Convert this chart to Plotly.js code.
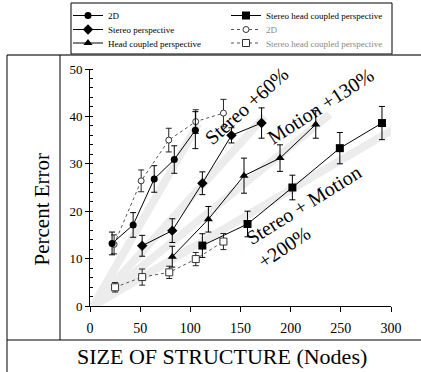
<!DOCTYPE html>
<html>
<head>
<meta charset="utf-8">
<script src="https://cdn.plot.ly/plotly-3.0.1.min.js"></script>
<style>html,body{margin:0;padding:0;background:#fff;}#chart{width:421px;height:372px;}</style>
</head>
<body>
<div id="chart"></div>
<script>
// ---- data ----
const x2D = [22, 43, 64, 84, 105];
const y2D = [13.2, 17.1, 26.8, 30.9, 37.1];
const e2D = [2.4, 2.6, 2.8, 2.9, 3.9];

const xStereo = [52, 82, 112, 141, 171];
const yStereo = [12.7, 15.9, 25.9, 36.0, 38.6];
const eStereo = [2.2, 2.5, 2.4, 1.6, 3.2];

const xHead = [82, 118, 153.5, 189.4, 225];
const yHead = [10.4, 18.3, 27.5, 31.2, 38.3];
const eHead = [2.2, 2.7, 3.7, 2.8, 2.9];

const xStereoHead = [112, 157, 201.7, 249, 291];
const yStereoHead = [12.75, 17.3, 25.0, 33.3, 38.6];
const eStereoHead = [2.5, 2.7, 2.6, 3.3, 3.5];

const xOpen2D = [24, 51, 78.5, 105.4, 133];
const yOpen2D = [13.0, 26.4, 35.0, 38.9, 40.7];
const eOpen2D = [2.0, 2.3, 2.5, 2.5, 2.9];

const xOpenStereoHead = [25, 52, 79, 105.4, 133];
const yOpenStereoHead = [3.95, 6.1, 7.1, 9.9, 13.6];
const eOpenStereoHead = [1.0, 1.7, 1.3, 1.4, 1.7];

// trend bands (start, end)
const bandStartX = [3, 3, 3, 3];
const bandStartY = [0, 0, 0, 0];
const bandEndX = [108, 174, 239, 305];
const bandEndY = [38.5, 40.0, 40.4, 37.6];

const xTicks = [0, 50, 100, 150, 200, 250, 300];
const yTicks = [0, 10, 20, 30, 40, 50];

const serif = 'Liberation Serif, Times New Roman, serif';

// ---- traces ----
const traces = [];
for (let i = 0; i < bandEndX.length; i++) {
  traces.push({
    x: [bandStartX[i], bandEndX[i]], y: [bandStartY[i], bandEndY[i]],
    mode: 'lines', line: {color: '#ececec', width: 8}, showlegend: false, hoverinfo: 'skip'
  });
}
function solid(name, xs, ys, es, symbol, size, legend) {
  return {
    name: name, x: xs, y: ys, mode: 'lines+markers', legend: legend,
    line: {color: '#000', width: 1},
    marker: {symbol: symbol, size: size, color: '#000'},
    error_y: {type: 'data', array: es, visible: true, color: '#000', thickness: 1, width: 3}
  };
}
function open(name, xs, ys, es, symbol, size, legend) {
  return {
    name: name, x: xs, y: ys, mode: 'lines+markers', legend: legend,
    line: {color: '#555', width: 1, dash: '3px,3px'},
    marker: {symbol: symbol, size: size, color: '#fff', line: {color: '#333', width: 1}},
    error_y: {type: 'data', array: es, visible: true, color: '#222', thickness: 1, width: 3}
  };
}
traces.push(open('2D', xOpen2D, yOpen2D, eOpen2D, 'circle', 6, 'legend5'));
traces.push(open('Stereo head coupled perspective', xOpenStereoHead, yOpenStereoHead, eOpenStereoHead, 'square', 7, 'legend6'));
traces.push(solid('2D', x2D, y2D, e2D, 'circle', 7, 'legend'));
traces.push(solid('Stereo perspective', xStereo, yStereo, eStereo, 'diamond', 8, 'legend2'));
traces.push(solid('Head coupled perspective', xHead, yHead, eHead, 'triangle-up', 8, 'legend3'));
traces.push(solid('Stereo head coupled perspective', xStereoHead, yStereoHead, eStereoHead, 'square', 8, 'legend4'));

// pixel helpers for paper positions
const L = 90, R = 391, T = 69, B = 306;
const px = v => (v - L) / (R - L);
const py = v => (B - v) / (B - T);

function leg(xp, yp, color) {
  return {x: px(xp), y: py(yp), xanchor: 'left', yanchor: 'middle', bgcolor: 'rgba(0,0,0,0)',
    borderwidth: 0, font: {family: serif, size: 9, color: color}, itemwidth: 30};
}

const layout = {
  width: 421, height: 372,
  margin: {l: L, r: 421 - R, t: T, b: 372 - B, autoexpand: false},
  paper_bgcolor: '#fff', plot_bgcolor: '#fff',
  font: {family: serif, color: '#000'},
  showlegend: true,
  legend: leg(68, 15.5, '#000'),
  legend2: leg(68, 29.5, '#000'),
  legend3: leg(68, 43, '#000'),
  legend4: leg(226, 15.5, '#000'),
  legend5: leg(226, 29.5, '#888'),
  legend6: leg(226, 43, '#888'),
  xaxis: {range: [0, 300], tickvals: xTicks, ticks: 'outside', ticklen: 5, tickcolor: '#000',
    showline: true, linecolor: '#000', linewidth: 1, showgrid: false, zeroline: false,
    tickfont: {family: serif, size: 14, color: '#000'}, ticklabelstandoff: 4, fixedrange: true},
  xaxis2: {overlaying: 'x', anchor: 'y', range: [0, 300], tickvals: xTicks, ticks: 'inside', ticklen: 5,
    tickcolor: '#000', showticklabels: false, showline: false, showgrid: false, zeroline: false},
  xaxis3: {overlaying: 'x', anchor: 'y', side: 'top', range: [0, 300], ticks: '', showticklabels: false,
    showline: true, linecolor: '#666', linewidth: 2, showgrid: false, zeroline: false},
  yaxis: {range: [0, 50], tickvals: yTicks, ticks: 'outside', ticklen: 4, tickcolor: '#000',
    showline: true, linecolor: '#000', linewidth: 1, showgrid: false, zeroline: false,
    tickfont: {family: serif, size: 13, color: '#000'},
    minor: {dtick: 2, ticks: 'inside', ticklen: 3, tickcolor: '#000', showgrid: false}},
  yaxis2: {overlaying: 'y', anchor: 'x', range: [0, 50], tickvals: yTicks, ticks: 'inside', ticklen: 5,
    tickcolor: '#000', showticklabels: false, showline: false, showgrid: false, zeroline: false},
  yaxis3: {overlaying: 'y', anchor: 'x', side: 'right', range: [0, 50], ticks: '', showticklabels: false,
    showline: true, linecolor: '#333', linewidth: 1, showgrid: false, zeroline: false},
  shapes: [
    {type: 'rect', xref: 'paper', yref: 'paper', x0: px(71), x1: px(392), y0: py(54), y1: py(3),
      line: {color: '#000', width: 1}},
    {type: 'line', xref: 'paper', yref: 'paper', x0: px(7), x1: px(421), y0: py(55), y1: py(55),
      line: {color: '#444', width: 1.5}},
    {type: 'line', xref: 'paper', yref: 'paper', x0: px(7), x1: px(421), y0: py(340), y1: py(340),
      line: {color: '#000', width: 1}},
    {type: 'line', xref: 'paper', yref: 'paper', x0: px(7), x1: px(7), y0: py(55), y1: py(372),
      line: {color: '#000', width: 1}},
    {type: 'line', xref: 'paper', yref: 'paper', x0: px(60), x1: px(60), y0: py(55), y1: py(340),
      line: {color: '#000', width: 1}}
  ],
  annotations: [
    {text: 'Percent Error', xref: 'paper', yref: 'paper', x: px(41.5), y: py(209), textangle: -90,
      xanchor: 'center', yanchor: 'middle',
      showarrow: false, font: {family: serif, size: 21, color: '#000'}},
    {text: 'SIZE OF STRUCTURE (Nodes)', xref: 'paper', yref: 'paper', x: px(222), y: py(356.5),
      xanchor: 'center', yanchor: 'middle', borderpad: 0,
      showarrow: false, font: {family: serif, size: 22, color: '#000'}},
    {text: 'Stereo +60%', x: 156, y: 42.1, textangle: -42, showarrow: false,
      font: {family: serif, size: 20, color: '#000'}},
    {text: 'Motion +130%', x: 230, y: 42.1, textangle: -33, showarrow: false,
      font: {family: serif, size: 20, color: '#000'}},
    {text: 'Stereo + Motion', x: 212.7, y: 21.3, textangle: -32, showarrow: false,
      font: {family: serif, size: 20, color: '#000'}},
    {text: '+200%', x: 193.4, y: 12.5, textangle: -34, showarrow: false,
      font: {family: serif, size: 20, color: '#000'}}
  ]
};

Plotly.newPlot('chart', traces, layout, {displayModeBar: false, staticPlot: true});
</script>
</body>
</html>
